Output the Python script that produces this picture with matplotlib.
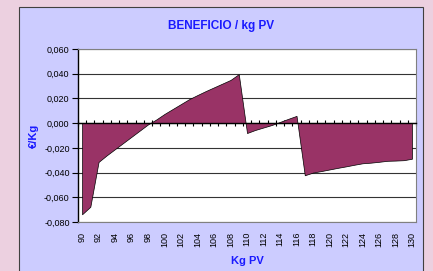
import numpy as np
import matplotlib.pyplot as plt
from matplotlib.patches import Rectangle

# Kg PV categories and profit per kg (EUR/kg)
kg_pv = list(range(90, 131))
beneficio = [-0.0738, -0.0677, -0.0314, -0.0260, -0.0210, -0.0160, -0.0110, -0.0060, -0.0010,
             0.0030, 0.0075, 0.0115, 0.0155, 0.0195, 0.0228, 0.0260, 0.0290, 0.0320, 0.0350,
             0.0397, -0.0080, -0.0055, -0.0035, -0.0015, 0.0010, 0.0035, 0.0059, -0.0422,
             -0.0400, -0.0388, -0.0375, -0.0362, -0.0350, -0.0337, -0.0325, -0.0320, -0.0313,
             -0.0305, -0.0303, -0.0300, -0.0288]
y_ticks = [-0.08, -0.06, -0.04, -0.02, 0.0, 0.02, 0.04, 0.06]
x_labels = kg_pv[::2]

plt.rcParams['font.family'] = ['Liberation Sans', 'DejaVu Sans']

fig = plt.figure(figsize=(4.33, 2.71), dpi=100)
fig.patch.set_facecolor('#ecd0e0')

# chart area (lavender box)
fig.patches.append(Rectangle((0.044, -0.05), 0.933, 1.024, transform=fig.transFigure,
                             facecolor='#ccccff', edgecolor='#404040', lw=0.8, zorder=-10))

ax = fig.add_axes([0.180, 0.181, 0.781, 0.638])
ax.set_facecolor('white')

x = np.array(kg_pv)
y = np.array(beneficio)
ax.fill_between(x, y, 0, facecolor='#993366', edgecolor='black', lw=0.5, zorder=3)

ax.set_xlim(89.5, 130.5)
ax.set_ylim(-0.08, 0.06)
ax.set_yticks(y_ticks)
ax.set_yticklabels([('%.3f' % v).replace('.', ',') for v in y_ticks], fontsize=6.5)
ax.tick_params(axis='y', direction='out', length=4, width=0.8, pad=2)
for v in y_ticks:
    ax.axhline(v, color='#333333', lw=0.8, zorder=1)

# category axis crossing at zero, tick marks on category boundaries
ax.spines['bottom'].set_position(('data', 0))
ax.spines['bottom'].set_linewidth(1.0)
ax.spines['bottom'].set_zorder(4)
ax.set_xticks(np.arange(89.5, 131, 1.0))
ax.tick_params(axis='x', direction='inout', length=5, width=0.8, labelbottom=False)
ax.spines['left'].set_linewidth(1.0)
for s in ['top', 'right']:
    ax.spines[s].set_color('#808080')

# tick labels along bottom of plot area
ax2 = ax.twiny()
ax2.set_xlim(ax.get_xlim())
ax2.xaxis.set_ticks_position('bottom')
ax2.xaxis.set_label_position('bottom')
ax2.set_xticks(x_labels)
ax2.set_xticklabels([str(v) for v in x_labels], rotation=90, fontsize=6.5)
ax2.tick_params(axis='x', length=0, pad=7)
for s in ['top', 'right', 'left']:
    ax2.spines[s].set_visible(False)
ax2.spines['bottom'].set_color('#808080')

fig.text(0.51, 0.905, 'BENEFICIO / kg PV', ha='center', va='center', color='#1a1aff',
         fontsize=8.5, fontweight='bold')
fig.text(0.079, 0.50, '€/Kg', ha='center', va='center', rotation=90, color='#1a1aff',
         fontsize=8, fontweight='bold')
fig.text(0.571, 0.037, 'Kg PV', ha='center', va='center', color='#1a1aff',
         fontsize=8, fontweight='bold')

fig.savefig('out.png', dpi=100, facecolor=fig.get_facecolor())
